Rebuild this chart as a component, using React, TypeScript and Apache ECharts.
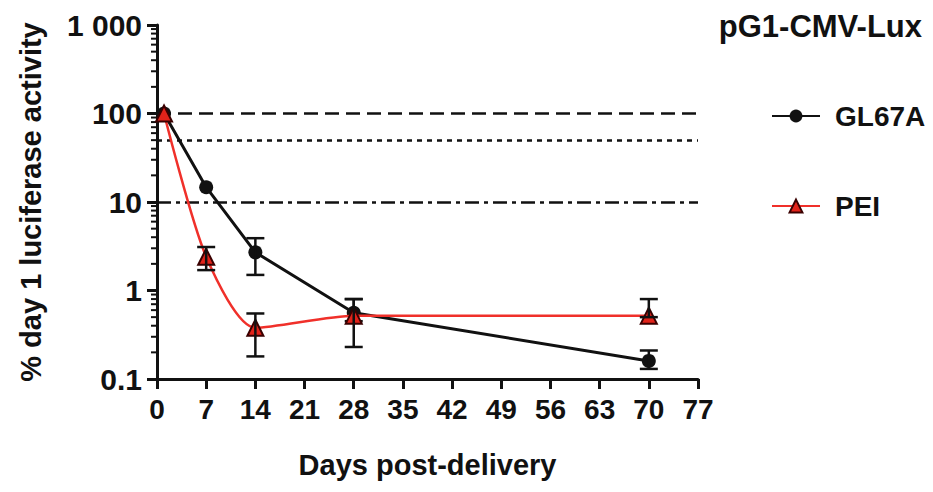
import React, { useEffect, useRef } from "react";
import * as echarts from "echarts";

const days = [1, 7, 14, 28, 70];
const gl67aValues = [100, 14.7, 2.7, 0.56, 0.16];
const peiValues = [100, 2.4, 0.38, 0.52, 0.52];
// [day, low, high]
const gl67aErrors = [
  [14, 1.5, 3.9],
  [28, 0.45, 0.8],
  [70, 0.13, 0.21],
];
const peiErrors = [
  [7, 1.7, 3.1],
  [14, 0.18, 0.55],
  [28, 0.23, 0.8],
  [70, 0.5, 0.8],
];
const refLines = [100, 50, 10];
const xTicks = [0, 77, 7];
const yRange = [0.1, 1000];

const FONT = "Liberation Sans, Arial, Helvetica, sans-serif";

const minorTickValues: number[] = [];
for (let d = 0.1; d < 1000; d *= 10) {
  for (let k = 2; k <= 9; k++) minorTickValues.push(+(d * k).toPrecision(3));
}

function errorRender(params: any, api: any) {
  const x = api.value(0);
  const lo = api.coord([x, api.value(1)]);
  const hi = api.coord([x, api.value(2)]);
  const w = 9;
  const style = { stroke: "#111", lineWidth: 2.5 };
  return {
    type: "group",
    children: [
      { type: "line", shape: { x1: lo[0], y1: lo[1], x2: hi[0], y2: hi[1] }, style },
      { type: "line", shape: { x1: lo[0] - w, y1: lo[1], x2: lo[0] + w, y2: lo[1] }, style },
      { type: "line", shape: { x1: hi[0] - w, y1: hi[1], x2: hi[0] + w, y2: hi[1] }, style },
    ],
  };
}

export default function App() {
  const ref = useRef<HTMLDivElement>(null);
  useEffect(() => {
    if (!ref.current) return;
    const chart = echarts.init(ref.current, null, { renderer: "svg" });
    const lineTypes: any[] = [[14, 7], [5, 5], [14, 5, 4, 5]];
    chart.setOption({
      animation: false,
      backgroundColor: "#fff",
      textStyle: { fontFamily: FONT },
      title: {
        text: "pG1-CMV-Lux",
        right: 3,
        top: 3,
        padding: 0,
        textStyle: { fontFamily: FONT, fontWeight: "bold", fontSize: 31, color: "#111" },
      },
      legend: {
        orient: "vertical",
        left: 758,
        top: 89,
        itemGap: 62,
        itemWidth: 48,
        itemHeight: 16,
        data: ["GL67A", "PEI"],
        textStyle: { fontFamily: FONT, fontWeight: "bold", fontSize: 28, color: "#111", padding: [0, 0, 0, 10] },
      },
      grid: { left: 141, right: 227, top: 17, bottom: 100, containLabel: false },
      xAxis: {
        type: "value",
        min: xTicks[0],
        max: xTicks[1],
        interval: xTicks[2],
        name: "Days post-delivery",
        nameLocation: "middle",
        nameGap: 71,
        nameTextStyle: { fontFamily: FONT, fontWeight: "bold", fontSize: 29, color: "#111" },
        axisLine: { lineStyle: { color: "#111", width: 3 } },
        axisTick: { length: 10, lineStyle: { color: "#111", width: 3 } },
        axisLabel: { fontFamily: FONT, fontWeight: "bold", fontSize: 28, color: "#111", margin: 16 },
        splitLine: { show: false },
      },
      yAxis: {
        type: "log",
        logBase: 10,
        min: yRange[0],
        max: yRange[1],
        name: "% day 1 luciferase activity",
        nameLocation: "middle",
        nameGap: 112,
        nameTextStyle: { fontFamily: FONT, fontWeight: "bold", fontSize: 29, color: "#111" },
        axisLine: { lineStyle: { color: "#111", width: 3 } },
        axisTick: { length: 10, lineStyle: { color: "#111", width: 3 } },
        axisLabel: {
          fontFamily: FONT,
          fontWeight: "bold",
          fontSize: 30,
          color: "#111",
          margin: 15,
          formatter: (v: number) => (v >= 1000 ? "1 000" : String(v)),
        },
        splitLine: { show: false },
      },
      series: [
        {
          type: "custom",
          name: "minorTicks",
          silent: true,
          clip: false,
          data: minorTickValues.map((v) => [0, v]),
          renderItem: (params: any, api: any) => {
            const p = api.coord([api.value(0), api.value(1)]);
            return {
              type: "line",
              shape: { x1: p[0] - 6, y1: p[1], x2: p[0], y2: p[1] },
              style: { stroke: "#111", lineWidth: 2 },
            };
          },
          z: 1,
        },
        {
          type: "line",
          name: "refs",
          data: [],
          markLine: {
            silent: true,
            symbol: "none",
            label: { show: false },
            data: refLines.map((v, i) => ({
              yAxis: v,
              lineStyle: { color: "#111", width: 2.5, type: lineTypes[i] },
            })),
          },
        },
        {
          type: "line",
          name: "GL67A",
          data: days.map((d, i) => [d, gl67aValues[i]]),
          symbol: "circle",
          symbolSize: 14,
          lineStyle: { color: "#111", width: 3 },
          itemStyle: { color: "#111" },
          z: 3,
        },
        {
          type: "custom",
          name: "GL67A err",
          data: gl67aErrors,
          renderItem: errorRender,
          clip: false,
          z: 4,
        },
        {
          type: "line",
          name: "PEI",
          data: days.map((d, i) => [d, peiValues[i]]),
          smooth: 0.25,
          symbol: "triangle",
          symbolSize: 16,
          lineStyle: { color: "#f0302a", width: 2.5 },
          itemStyle: { color: "#e2231a", borderColor: "#3a0000", borderWidth: 2 },
          z: 5,
        },
        {
          type: "custom",
          name: "PEI err",
          data: peiErrors,
          renderItem: errorRender,
          clip: false,
          z: 6,
        },
      ],
    });
    return () => chart.dispose();
  }, []);
  return <div ref={ref} style={{ width: 917, height: 476 }} />;
}
